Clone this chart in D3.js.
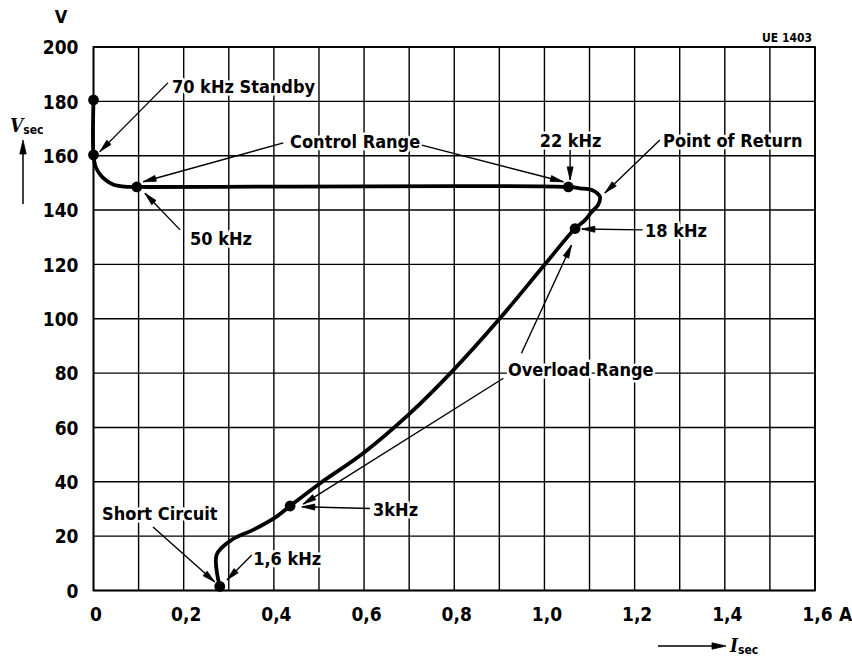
<!DOCTYPE html>
<html>
<head>
<meta charset="utf-8">
<script src="https://cdn.jsdelivr.net/npm/d3@7"></script>
<style>
  html, body { margin: 0; padding: 0; background: #fff; }
  svg { display: block; }
  text { font-family: "DejaVu Sans Condensed", "DejaVu Sans", sans-serif; font-stretch: condensed; font-weight: bold; fill: #000; }
</style>
</head>
<body>
<svg id="chart" width="852" height="661"></svg>
<script>
// ---------- data ----------
const xTicks = [0, 0.2, 0.4, 0.6, 0.8, 1.0, 1.2, 1.4, 1.6];
const xTickLabels = ["0", "0,2", "0,4", "0,6", "0,8", "1,0", "1,2", "1,4", "1,6"];
const yTicks = [0, 20, 40, 60, 80, 100, 120, 140, 160, 180, 200];
const yTickLabels = ["0", "20", "40", "60", "80", "100", "120", "140", "160", "180", "200"];
const xGrid = [0, 0.1, 0.2, 0.3, 0.4, 0.5, 0.6, 0.7, 0.8, 0.9, 1.0, 1.1, 1.2, 1.3, 1.4, 1.5, 1.6];

// characteristic curve I_sec (A) / V_sec (V)
const curveI = [0, 0, 0.0053, 0.0202, 0.0421, 0.0687, 0.096, 1.053, 1.079, 1.105, 1.123, 1.119, 1.105, 1.090, 1.068,
                0.997, 0.898, 0.798, 0.698, 0.598, 0.502, 0.436, 0.406, 0.354, 0.306, 0.273, 0.28];
const curveV = [180.5, 160.1, 155.7, 152.0, 149.5, 148.6, 148.5, 148.5, 148.0, 147.4, 144.9, 141.9, 139.4, 136.3, 133.2,
                119.2, 99.5, 81.1, 64.6, 50.5, 39.4, 31.1, 27.2, 22.3, 18.6, 13.1, 1.5];

// marked operating points
const dotLabels = ["Standby max", "70 kHz", "50 kHz", "22 kHz", "18 kHz", "3 kHz", "1,6 kHz"];
const dotI = [0, 0, 0.096, 1.053, 1.068, 0.436, 0.28];
const dotV = [180.5, 160.3, 148.5, 148.5, 133.2, 31.1, 1.5];

// annotation texts (data coordinates of text start / baseline)
const annTexts = ["70 kHz Standby", "Control Range", "50 kHz", "22 kHz", "Point of Return", "18 kHz", "Overload Range", "3kHz", "Short Circuit", "1,6 kHz"];
const annTextI = [0.174, 0.436, 0.214, 1.058, 1.263, 1.223, 0.919, 0.620, 0.019, 0.354];
const annTextV = [183.1, 162.8, 127.1, 163.2, 163.2, 130.1, 79.0, 27.4, 26.0, 9.4];
const annAnchor = ["start", "start", "start", "middle", "start", "start", "start", "start", "start", "start"];

// annotation arrows (from -> tip) in data coordinates
const arrI1 = [0.165, 0.421, 0.728, 0.192, 1.057, 1.256, 1.218, 0.949, 0.909, 0.613, 0.132, 0.351];
const arrV1 = [186.8, 164.7, 163.9, 132.7, 162.1, 165.8, 132.7, 87.3, 78.1, 30.2, 23.4, 13.1];
const arrI2 = [0.014, 0.110, 1.042, 0.114, 1.057, 1.134, 1.083, 1.060, 0.465, 0.462, 0.269, 0.296];
const arrV2 = [161.5, 150.4, 150.4, 146.2, 151.1, 146.3, 133.0, 127.1, 31.8, 30.8, 3.1, 3.9];

// ---------- layout ----------
const svg = d3.select("#chart");
const x = d3.scaleLinear().domain([0, 1.6]).range([93.5, 815]);
const y = d3.scaleLinear().domain([0, 200]).range([590.5, 47]);

// grid
const g = svg.append("g");
g.selectAll("line.vg").data(xGrid).enter().append("line")
  .attr("x1", d => x(d)).attr("x2", d => x(d))
  .attr("y1", y(0)).attr("y2", y(200))
  .attr("stroke", "#000").attr("stroke-width", 1.4);
g.selectAll("line.hg").data(yTicks).enter().append("line")
  .attr("x1", x(0)).attr("x2", x(1.6))
  .attr("y1", d => y(d)).attr("y2", d => y(d))
  .attr("stroke", "#000").attr("stroke-width", 1.4);
g.append("rect").attr("x", x(0)).attr("y", y(200))
  .attr("width", x(1.6) - x(0)).attr("height", y(0) - y(200))
  .attr("fill", "none").attr("stroke", "#000").attr("stroke-width", 1.8);

// axes (labels only, via d3 axes)
const xAxis = d3.axisBottom(x).tickValues(xTicks).tickSize(0).tickPadding(0)
  .tickFormat((d, i) => xTickLabels[i]);
const xa = svg.append("g").attr("transform", `translate(0, ${y(0) + 30})`).call(xAxis);
xa.select(".domain").remove();
xa.selectAll("text").attr("dy", null).attr("y", 0).attr("dx", 2).style("font-size", "19px").attr("fill", "#000");
xa.attr("font-family", null).attr("font-size", null);

const yAxis = d3.axisLeft(y).tickValues(yTicks).tickSize(0).tickPadding(15)
  .tickFormat((d, i) => yTickLabels[i]);
const ya = svg.append("g").call(yAxis).attr("transform", `translate(${x(0)}, 0)`);
ya.select(".domain").remove();
ya.selectAll("text").attr("dy", "0.36em").style("font-size", "19px").attr("fill", "#000");
ya.attr("font-family", null).attr("font-size", null);

// units
svg.append("text").attr("x", 61).attr("y", 23).attr("text-anchor", "middle").style("font-size", "18px").text("V");
svg.append("text").attr("x", x(1.6) + 24).attr("y", y(0) + 30).attr("text-anchor", "start").style("font-size", "19px").text("A");
svg.append("text").attr("x", 812).attr("y", 42).attr("text-anchor", "end").style("font-size", "12px").text("UE 1403");

// axis titles with arrows
function arrowHead(sel, x1, y1, x2, y2, len, hw) {
  const a = Math.atan2(y2 - y1, x2 - x1);
  const bx = x2 - len * Math.cos(a), by = y2 - len * Math.sin(a);
  const px = -Math.sin(a) * hw, py = Math.cos(a) * hw;
  sel.append("path")
    .attr("d", `M${x2},${y2}L${bx + px},${by + py}L${bx - px},${by - py}Z`)
    .attr("fill", "#000").attr("stroke", "#000").attr("stroke-width", 0.8).attr("stroke-linejoin", "round");
}
const titles = svg.append("g");
const vt = titles.append("text").attr("x", 10).attr("y", 132).style("font-size", "19px");
vt.append("tspan").style("font-style", "italic").style("font-family", "'DejaVu Serif', serif").style("font-weight", "bold").text("V");
vt.append("tspan").attr("dy", 2).style("font-size", "12px").text("sec");
titles.append("line").attr("x1", 23).attr("x2", 23).attr("y1", 204).attr("y2", 148).attr("stroke", "#000").attr("stroke-width", 1.5);
arrowHead(titles, 23, 204, 23, 140, 14, 3.2);

const it = titles.append("text").attr("x", 730).attr("y", 652).style("font-size", "19px");
it.append("tspan").style("font-style", "italic").style("font-family", "'DejaVu Serif', serif").style("font-weight", "bold").text("I");
it.append("tspan").attr("dy", 2).style("font-size", "12px").text("sec");
titles.append("line").attr("x1", 658).attr("x2", 718).attr("y1", 646).attr("y2", 646).attr("stroke", "#000").attr("stroke-width", 1.5);
arrowHead(titles, 658, 646, 726, 646, 14, 3.2);

// annotation texts (white background over grid)
const ann = svg.append("g");
ann.selectAll("text").data(annTexts).enter().append("text")
  .attr("x", (d, i) => x(annTextI[i])).attr("y", (d, i) => y(annTextV[i]))
  .attr("text-anchor", (d, i) => annAnchor[i])
  .style("font-size", "18px")
  .attr("stroke", "#fff").attr("stroke-width", 5).attr("paint-order", "stroke")
  .attr("stroke-linejoin", "round")
  .text(d => d);

// curve
const line = d3.line().x(d => x(d[0])).y(d => y(d[1])).curve(d3.curveCatmullRom.alpha(0.5));
svg.append("path").datum(curveI.map((v, i) => [v, curveV[i]]))
  .attr("d", line).attr("fill", "none").attr("stroke", "#000")
  .attr("stroke-width", 3.8).attr("stroke-linejoin", "round").attr("stroke-linecap", "round");

// annotation arrows
const arr = svg.append("g");
arrI1.forEach((v, i) => {
  const X1 = x(v), Y1 = y(arrV1[i]), X2 = x(arrI2[i]), Y2 = y(arrV2[i]);
  arr.append("line").attr("x1", X1).attr("y1", Y1).attr("x2", X2).attr("y2", Y2)
    .attr("stroke", "#000").attr("stroke-width", 1.4);
  arrowHead(arr, X1, Y1, X2, Y2, 13, 3);
});

// dots
svg.append("g").selectAll("circle").data(dotLabels).enter().append("circle")
  .attr("cx", (d, i) => x(dotI[i])).attr("cy", (d, i) => y(dotV[i]))
  .attr("r", 5.4).attr("fill", "#000");
</script>
</body>
</html>
